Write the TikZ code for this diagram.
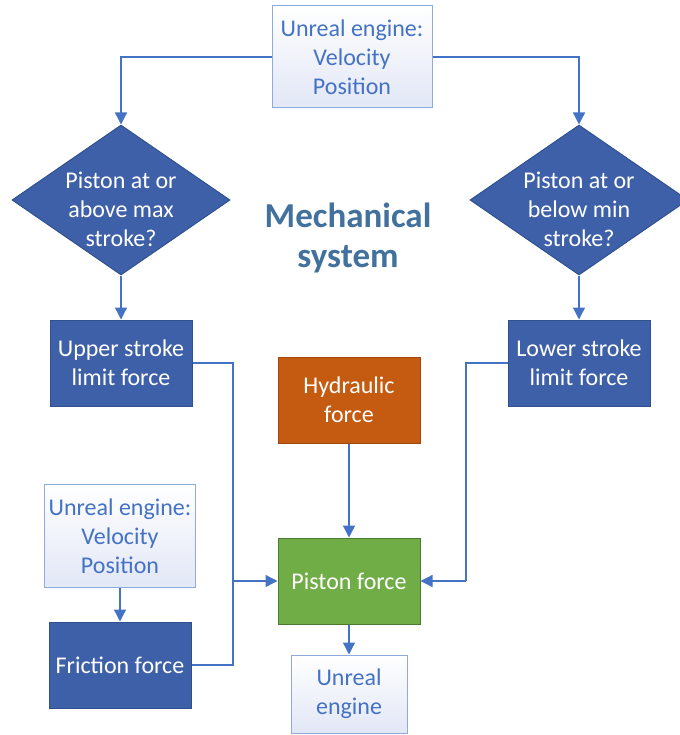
\documentclass[tikz,border=0pt]{standalone}
\usepackage{fontspec}
\setmainfont{Carlito}
\usetikzlibrary{arrows.meta, shapes.geometric}
\definecolor{azul}{RGB}{62,96,168}
\definecolor{azulborda}{RGB}{47,82,143}
\definecolor{linha}{RGB}{68,114,196}
\definecolor{claroborda}{RGB}{143,170,220}
\definecolor{claro}{RGB}{226,231,246}
\definecolor{laranja}{RGB}{197,90,17}
\definecolor{verde}{RGB}{112,173,71}
\definecolor{titulo}{RGB}{65,113,156}

\begin{document}
\begin{tikzpicture}[
    x=1pt, y=-1pt,
    caixa/.style={
        draw=azulborda,
        line width=1pt,
        fill=azul,
        text=white,
        minimum width=142pt,
        minimum height=86pt,
        align=center,
        font=\fontsize{24}{29}\selectfont
    },
    leve/.style={
        caixa,
        draw=claroborda,
        top color=white,
        bottom color=claro,
        text=linha
    },
    decisao/.style={
        caixa,
        shape=diamond,
        aspect=1.45,
        inner sep=-12pt,
        minimum width=218pt,
        minimum height=150pt
    },
    seta/.style={
        -{Triangle[length=12pt,width=12pt]},
        draw=linha,
        line width=1.3pt
    },
    liga/.style={
        draw=linha,
        line width=1.3pt
    }
]

\useasboundingbox (0,0) rectangle (679,735);

% =================================================
% ENTRADA - UNREAL ENGINE
% =================================================

\node[leve, minimum width=160pt, minimum height=102pt] (ueTopo) at (352,57)
{Unreal engine:\\Velocity\\Position};

% =================================================
% LIMITES DE CURSO
% =================================================

\node[decisao] (maxCurso) at (121,200)
{\rule{0pt}{36pt}Piston at or\\above max\\stroke?};

\node[decisao] (minCurso) at (579,200)
{\rule{0pt}{36pt}Piston at or\\below min\\stroke?};

\node[
    font=\fontsize{35}{40}\selectfont\bfseries,
    text=titulo,
    align=center
] (titulo) at (348,238)
{Mechanical\\system};

\node[caixa] (limSup) at (121,363)
{Upper stroke\\limit force};

\node[caixa] (limInf) at (579,363)
{Lower stroke\\limit force};

% =================================================
% FORCAS
% =================================================

\node[caixa, fill=laranja, draw=laranja!80!black] (hidr) at (349,400)
{Hydraulic\\force};

\node[leve, minimum width=151pt, minimum height=103pt] (ueEsq) at (120,536)
{Unreal engine:\\Velocity\\Position};

\node[caixa] (atrito) at (120,665)
{Friction force};

\node[caixa, fill=verde, draw=verde!70!black] (pistao) at (349,581)
{Piston force};

\node[leve, minimum width=116pt, minimum height=78pt] (ueFim) at (349,694)
{Unreal\\engine};

% Pontos de juncao
\coordinate (juntaEsq) at (233,581);
\coordinate (juntaDir) at (466,581);

% Conexoes
\draw[seta] (ueTopo.west) -| (maxCurso.north);
\draw[seta] (ueTopo.east) -| (minCurso.north);

\draw[seta] (maxCurso.south) -- (limSup.north);
\draw[seta] (minCurso.south) -- (limInf.north);

\draw[liga] (limSup.east) -| (juntaEsq);
\draw[liga] (atrito.east) -| (juntaEsq);
\draw[seta] (juntaEsq) -- (pistao.west);

\draw[liga] (limInf.west) -| (juntaDir);
\draw[seta] (juntaDir) -- (pistao.east);

\draw[seta] (hidr.south) -- (pistao.north);
\draw[seta] (ueEsq.south) -- (atrito.north);
\draw[seta] (pistao.south) -- (ueFim.north);

\end{tikzpicture}
\end{document}
